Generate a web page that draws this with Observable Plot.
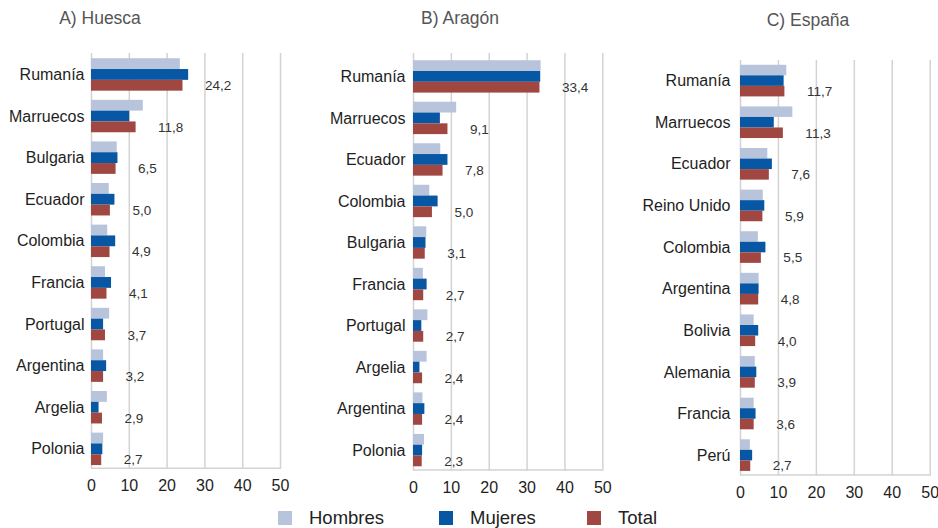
<!DOCTYPE html>
<html>
<head>
<meta charset="utf-8">
<script src="https://cdn.jsdelivr.net/npm/d3@7"></script>
<script src="https://cdn.jsdelivr.net/npm/@observablehq/plot@0.6"></script>
<style>
  html, body { margin: 0; padding: 0; background: #fff; }
  #root { position: relative; width: 938px; height: 528px; overflow: hidden; font-family: 'Liberation Sans', Arial, sans-serif; }
  .panel { position: absolute; top: 0; }
  .title { position: absolute; font-size: 17.5px; color: #555; white-space: nowrap; transform: translateX(-50%); }
  .legend { position: absolute; top: 507px; font-size: 18.5px; color: #222; display: flex; align-items: center; }
  .sw { display: inline-block; width: 14px; height: 14px; margin-right: 17px; }
</style>
</head>
<body>
<div id="root"></div>
<script>
// ---- Data ----
const xTicks = [0, 10, 20, 30, 40, 50];
const seriesNames = ["Hombres", "Mujeres", "Total"];
const seriesColors = ["#b8c3dc", "#0857a4", "#a04742"];

const huescaCountries = ["Rumanía", "Marruecos", "Bulgaria", "Ecuador", "Colombia", "Francia", "Portugal", "Argentina", "Argelia", "Polonia"];
const huescaHombres = [23.5, 13.7, 6.8, 4.7, 4.3, 3.7, 4.8, 3.2, 4.2, 3.2];
const huescaMujeres = [25.7, 10.1, 7.0, 6.2, 6.4, 5.3, 3.2, 4.0, 2.0, 3.0];
const huescaTotal = [24.2, 11.8, 6.5, 5.0, 4.9, 4.1, 3.7, 3.2, 2.9, 2.7];

const aragonCountries = ["Rumanía", "Marruecos", "Ecuador", "Colombia", "Bulgaria", "Francia", "Portugal", "Argelia", "Argentina", "Polonia"];
const aragonHombres = [33.7, 11.4, 7.2, 4.3, 3.5, 2.6, 3.8, 3.6, 2.5, 2.9];
const aragonMujeres = [33.6, 7.1, 9.1, 6.5, 3.3, 3.6, 2.2, 1.7, 3.0, 2.4];
const aragonTotal = [33.4, 9.1, 7.8, 5.0, 3.1, 2.7, 2.7, 2.4, 2.4, 2.3];

const espanaCountries = ["Rumanía", "Marruecos", "Ecuador", "Reino Unido", "Colombia", "Argentina", "Bolivia", "Alemania", "Francia", "Perú"];
const espanaHombres = [12.2, 13.8, 7.2, 6.0, 4.7, 4.9, 3.6, 3.9, 3.6, 2.6];
const espanaMujeres = [11.5, 8.9, 8.4, 6.4, 6.7, 4.9, 4.8, 4.3, 4.1, 3.2];
const espanaTotal = [11.7, 11.3, 7.6, 5.9, 5.5, 4.8, 4.0, 3.9, 3.6, 2.7];

const panelTitles = ["A) Huesca", "B) Aragón", "C) España"];

// ---- Rendering ----
const root = document.getElementById("root");
const fmt = v => v.toFixed(1).replace(".", ",");

function panel(cfg) {
  const {countries, hombres, mujeres, total, left, width, mL, mR, mT, mB, pi, po, align, tickPad} = cfg;
  const height = 500;
  const data = countries.map((c, i) => ({country: c, hombres: hombres[i], mujeres: mujeres[i], total: total[i]}));
  const H = height - mT - mB;
  const bw = d3.scaleBand().domain(countries).range([0, H]).paddingInner(pi).paddingOuter(po).align(align).bandwidth();
  const t = bw / 3;
  const chart = Plot.plot({
    width, height,
    marginLeft: mL, marginRight: mR, marginTop: mT, marginBottom: mB,
    style: {fontFamily: "'Liberation Sans', Arial, sans-serif", fontSize: "16px", color: "#1e1e1e", background: "transparent", overflow: "visible"},
    x: {domain: [xTicks[0], xTicks[xTicks.length - 1]], ticks: xTicks, tickSize: 0, tickPadding: 10, label: null},
    y: {domain: countries, paddingInner: pi, paddingOuter: po, align, round: false, tickSize: 0, tickPadding: tickPad, label: null},
    marks: [
      Plot.ruleX(xTicks, {stroke: "#d3d3d3", strokeWidth: 1.5}),
      Plot.rect([[xTicks[0], xTicks[xTicks.length - 1]]], {x1: d => d[0], x2: d => d[1], fill: "#d3d3d3", insetTop: H - 1.5}),
      Plot.barX(data, {y: "country", x: "hombres", fill: seriesColors[0], insetTop: 0, insetBottom: 2 * t}),
      Plot.barX(data, {y: "country", x: "mujeres", fill: seriesColors[1], insetTop: t, insetBottom: t}),
      Plot.barX(data, {y: "country", x: "total", fill: seriesColors[2], insetTop: 2 * t, insetBottom: 0}),
      Plot.text(data, {y: "country", x: "total", text: d => fmt(d.total), dx: 22, dy: t, textAnchor: "start", fontSize: 13.5, fill: "#333"})
    ]
  });
  const div = document.createElement("div");
  div.className = "panel";
  div.style.left = left + "px";
  div.appendChild(chart);
  root.appendChild(div);
}

panel({countries: huescaCountries, hombres: huescaHombres, mujeres: huescaMujeres, total: huescaTotal,
  left: 0, width: 300, mL: 91, mR: 20, mT: 53, mB: 31, pi: 0.22, po: 0.11, align: 0.57, tickPad: 7});
panel({countries: aragonCountries, hombres: aragonHombres, mujeres: aragonMujeres, total: aragonTotal,
  left: 310, width: 300, mL: 103, mR: 7.7, mT: 53, mB: 29.3, pi: 0.22, po: 0.14, align: 0.62, tickPad: 8});
panel({countries: espanaCountries, hombres: espanaHombres, mujeres: espanaMujeres, total: espanaTotal,
  left: 630, width: 308, mL: 110, mR: 8.3, mT: 60, mB: 24.3, pi: 0.24, po: 0.115, align: 0.5, tickPad: 10});

// titles
[[100, 8], [460, 8], [808, 10]].forEach(([x, y], i) => {
  const d = document.createElement("div");
  d.className = "title";
  d.style.left = x + "px";
  d.style.top = y + "px";
  d.textContent = panelTitles[i];
  root.appendChild(d);
});

// legend
[278, 439, 587].forEach((x, i) => {
  const d = document.createElement("div");
  d.className = "legend";
  d.style.left = x + "px";
  d.innerHTML = `<span class="sw" style="background:${seriesColors[i]}"></span><span>${seriesNames[i]}</span>`;
  root.appendChild(d);
});
</script>
</body>
</html>
